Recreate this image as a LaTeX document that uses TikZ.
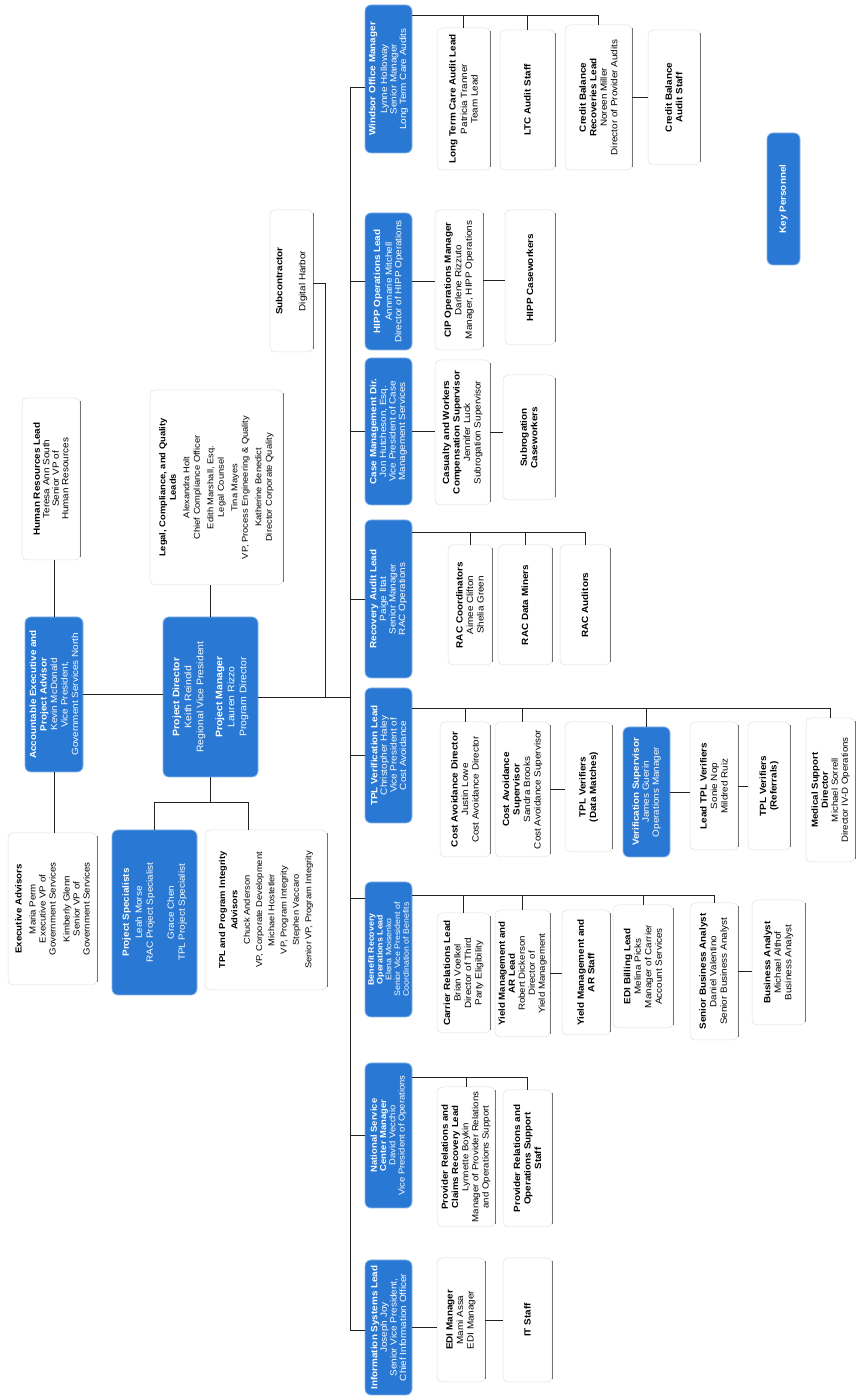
\documentclass[tikz,border=0pt]{standalone}
\usepackage{fontspec}
\setmainfont{Liberation Sans}[FakeStretch=1.1]
\usetikzlibrary{calc}
\definecolor{kblue}{RGB}{40,120,212}
\definecolor{kline}{RGB}{35,35,35}
\tikzset{
  kbox/.style={rectangle, rounded corners=6pt, fill=kblue, draw=kblue!55!white, line width=0.8pt, text=white, align=center, inner sep=1pt},
  card/.style={rectangle, rounded corners=5pt, fill=white, draw=black!12, line width=0.5pt, align=center, inner sep=1pt,
     font=\fontsize{9pt}{10.5pt}\selectfont,
     append after command={([xshift=3pt]\tikzlastnode.south west) edge[draw=black!55, line width=0.7pt] ([xshift=-3pt]\tikzlastnode.south east)}},
  conn/.style={draw=kline, line width=0.9pt},
  fs/.style 2 args={font=\fontsize{#1pt}{#2pt}\selectfont},
  sz/.style 2 args={minimum width=#1pt, minimum height=#2pt},
  dir/.style={kbox, minimum height=47pt, font=\fontsize{9pt}{9.6pt}\selectfont},
}
\begin{document}
\begin{tikzpicture}[x=1pt,y=1pt]
\useasboundingbox (0,0) rectangle (856,1399);
\fill[white] (0,0) rectangle (856,1399);
\begin{scope}[shift={(0,1399)}, rotate=90, transform shape]
% ---------- top level ----------
\node[kbox, sz={155}{58}, fs={9}{10.5}] (AE) at (-694.5,-54) {\textbf{Accountable Executive and}\\\textbf{Project Advisor}\\Kevin McDonald\\Vice President,\\Government Services North};
\node[card, sz={152}{89}, fs={8.8}{10}] (EA) at (-909,-52.5) {\textbf{Executive Advisors}\\[4pt]Maria Perm\\Executive VP of\\Government Services\\[4pt]Kimberly Glenn\\Senior VP of\\Government Services};
\node[card, sz={162}{58}, fs={9}{9.5}] (HR) at (-479,-51) {\textbf{Human Resources Lead}\\Teresa Ann South\\Senior VP of\\Human Resources};
\node[kbox, sz={160}{95}, fs={9.5}{12}] (PD) at (-697,-210.5) {\textbf{Project Director}\\Keith Reinold\\Regional Vice President\\[7pt]\textbf{Project Manager}\\Lauren Rizzo\\Program Director};
\node[card, sz={195}{133}, fs={8.5}{10.5}] (LEGAL) at (-487.5,-216.5) {\textbf{Legal, Compliance, and Quality}\\\textbf{Leads}\\[3pt]Alexandra Holt\\Chief Compliance Officer\\[3pt]Edith Marshall, Esq.\\Legal Counsel\\[3pt]Tina Mayes\\VP, Process Engineering \& Quality\\[3pt]Katherine Benedict\\Director Corporate Quality};
\node[kbox, sz={165}{85}, fs={9}{11}] (PS) at (-912.5,-154.5) {\textbf{Project Specialists}\\[2pt]Leah Morse\\RAC Project Specialist\\[10pt]Grace Chen\\TPL Project Specialist};
\node[card, sz={160}{122}, fs={8.5}{12.3}] (TADV) at (-910,-266) {\textbf{TPL and Program Integrity}\\\textbf{Advisors}\\Chuck Anderson\\VP, Corporate Development\\Michael Hostetler\\VP, Program Integrity\\Stephen Vaccaro\\Senior VP, Program Integrity};
\node[card, sz={142}{43}, fs={9}{10}] (SUB) at (-281,-291.5) {\textbf{Subcontractor}\\[13pt]Digital Harbor};
\node[kbox, sz={132}{33}, fs={9}{10}] (KEY) at (-199,-783.5) {\textbf{Key Personnel}};
% ---------- directors ----------
\node[dir, minimum width=148pt] (W) at (-79,-388.5) {\textbf{Windsor Office Manager}\\[2pt]Lynne Holloway\\Senior Manager\\Long Term Care Audits};
\node[dir, minimum width=137pt] (HIPP) at (-281.5,-388.5) {\textbf{HIPP Operations Lead}\\[2pt]Annmarie Mitchell\\Director of HIPP Operations};
\node[dir, minimum width=147pt] (CASE) at (-431.5,-388.5) {\textbf{Case Management Dir.}\\Jon Hutcheson, Esq.\\Vice President of Case\\Management Services};
\node[dir, minimum width=158pt] (RA) at (-599,-388.5) {\textbf{Recovery Audit Lead}\\Paige Iltat\\Senior Manager\\RAC Operations};
\node[dir, minimum width=135pt] (TPL) at (-755.5,-388.5) {\textbf{TPL Verification Lead}\\Christopher Haley\\Vice President of\\Cost Avoidance};
\node[dir, minimum width=135pt, fs={8}{8.8}] (BR) at (-949.5,-388.5) {\textbf{Benefit Recovery}\\\textbf{Operations Lead}\\Elena Moisenko\\Senior Vice President of\\Coordination of Benefits};
\node[dir, minimum width=145pt, fs={8.6}{9.3}] (NS) at (-1135.5,-388.5) {\textbf{National Service}\\\textbf{Center Manager}\\David Vecchio\\Vice President of Operations};
\node[dir, minimum width=135pt] (IS) at (-1327.5,-388.5) {\textbf{Information Systems Lead}\\Joseph Joy\\Senior Vice President,\\Chief Information Officer};
% ---------- Windsor children ----------
\node[card, sz={142}{53}] (LTCAL) at (-99,-463.5) {\textbf{Long Term Care Audit Lead}\\[1pt]Patricia Tranner\\Team Lead};
\node[card, sz={140}{55}] (LTCAS) at (-100,-527.5) {\textbf{LTC Audit Staff}};
\node[card, sz={145}{67}] (CBRL) at (-97.5,-598.5) {\textbf{Credit Balance}\\\textbf{Recoveries Lead}\\Noreen Miller\\Director of Provider Audits};
\node[card, sz={135}{52}] (CBAS) at (-97.5,-674) {\textbf{Credit Balance}\\\textbf{Audit Staff}};
% ---------- HIPP children ----------
\node[card, sz={140}{48}] (CIP) at (-280,-459) {\textbf{CIP Operations Manager}\\Darlene Rizzuto\\Manager, HIPP Operations};
\node[card, sz={135}{50}] (HIPPC) at (-277.5,-530) {\textbf{HIPP Caseworkers}};
% ---------- Case children ----------
\node[card, sz={145}{55}] (CWCS) at (-432.5,-462.5) {\textbf{Casualty and Workers}\\\textbf{Compensation Supervisor}\\Jennifer Luck\\Subrogation Supervisor};
\node[card, sz={125}{52}] (SC) at (-437.5,-529) {\textbf{Subrogation}\\\textbf{Caseworkers}};
% ---------- Recovery audit children ----------
\node[card, sz={120}{44}] (RACC) at (-605,-470) {\textbf{RAC Coordinators}\\Aimee Clifton\\Shelia Green};
\node[card, sz={120}{54}] (RACD) at (-605,-525) {\textbf{RAC Data Miners}};
\node[card, sz={120}{50}] (RACA) at (-605,-585) {\textbf{RAC Auditors}};
% ---------- TPL children ----------
\node[card, sz={135}{50}] (CAD) at (-789.5,-465) {\textbf{Cost Avoidance Director}\\Justin Lowe\\Cost Avoidance Director};
\node[card, sz={135}{55}] (CAS) at (-789.5,-522.5) {\textbf{Cost Avoidance}\\\textbf{Supervisor}\\Sandra Brooks\\Cost Avoidance Supervisor};
\node[card, sz={130}{47}] (TPLDM) at (-787,-588.5) {\textbf{TPL Verifiers}\\\textbf{(Data Matches)}};
\node[kbox, sz={130}{47}, fs={9}{10}] (VS) at (-792,-646.5) {\textbf{Verification Supervisor}\\James Guerin\\Operations Manager};
\node[card, sz={128}{48}] (LTV) at (-786,-714) {\textbf{Lead TPL Verifiers}\\Sonie Nop\\Mildred Ruiz};
\node[card, sz={128}{42}] (TPLR) at (-786,-769) {\textbf{TPL Verifiers}\\\textbf{(Referrals)}};
\node[card, sz={144}{49}, fs={8.8}{10}] (MSD) at (-790,-830.5) {\textbf{Medical Support}\\\textbf{Director}\\Michael Sorrell\\Director IV-D Operations};
% ---------- Benefit recovery children ----------
\node[card, sz={120}{53}] (CRL) at (-973,-463.5) {\textbf{Carrier Relations Lead}\\Brian Voelkel\\Director of Third\\Party Eligibility};
\node[card, sz={127}{55}, fs={8.8}{10}] (YAL) at (-973.5,-522.5) {\textbf{Yield Management and}\\\textbf{AR Lead}\\Robert Dickerson\\Director of\\Yield Management};
\node[card, sz={125}{48}] (YAS) at (-972.5,-586) {\textbf{Yield Management and}\\\textbf{AR Staff}};
\node[card, sz={123}{60}] (EDIB) at (-966.5,-643) {\textbf{EDI Billing Lead}\\Melina Picks\\Manager of Carrier\\Account Services};
\node[card, sz={137}{48}] (SBA) at (-971.5,-714) {\textbf{Senior Business Analyst}\\Daniel Valentino\\Senior Business Analyst};
\node[card, sz={125}{53}] (BA) at (-962.5,-778.5) {\textbf{Business Analyst}\\Michael Althof\\Business Analyst};
% ---------- National service children ----------
\node[card, sz={140}{58}, fs={8.8}{10.2}] (PRCR) at (-1157,-466) {\textbf{Provider Relations and}\\\textbf{Claims Recovery Lead}\\Lynnette Boykin\\Manager of Provider Relations\\and Operations Support};
\node[card, sz={137}{49}] (PROS) at (-1158.5,-527.5) {\textbf{Provider Relations and}\\\textbf{Operations Support}\\\textbf{Staff}};
% ---------- Information systems children ----------
\node[card, sz={124}{48}] (EDIM) at (-1320,-461) {\textbf{EDI Manager}\\Mami Assa\\EDI Manager};
\node[card, sz={124}{49}] (ITS) at (-1320,-527.5) {\textbf{IT Staff}};

% ---------- connectors ----------
\draw[conn] (AE.west) -- (AE.west -| EA.east);
\draw[conn] (AE.east) -- (AE.east -| HR.west);
\draw[conn] (AE.south) -- (AE.south |- PD.north);
\draw[conn] (PD.east) -- (PD.east -| LEGAL.west);
\coordinate (pdj) at (-802,-210.5);
\coordinate (tadvt) at (-802,-248);
\draw[conn] (PD.west) -- (pdj);
\draw[conn] (PS.east) -- (PS.east -| pdj) -- (tadvt) -- (tadvt -| TADV.east);
\coordinate (busY) at (0,-350);
\coordinate (busL) at (-1330,-350);
\coordinate (busR) at (-87,-350);
\draw[conn] (PD.south) -- (PD.south |- busY);
\draw[conn] (busL) -- (busR);
\coordinate (subk) at (-283,-325);
\draw[conn] (PD.south |- subk) -- (subk) -- (subk |- SUB.south);
\draw[conn] (busR) -- (busR |- W.north);
\draw[conn] (HIPP.north |- busY) -- (HIPP.north);
\draw[conn] (CASE.north |- busY) -- (CASE.north);
\draw[conn] (RA.north |- busY) -- (RA.north);
\draw[conn] (TPL.north |- busY) -- (TPL.north);
\coordinate (brt) at (-898,-350);
\draw[conn] (brt) -- (brt |- BR.north);
\draw[conn] (NS.north |- busY) -- (NS.north);
\draw[conn] (busL) -- (busL |- IS.north);
% Windsor
\coordinate (wside) at (-15,0);
\draw[conn] (W.south -| wside) -- (CBRL.east -| wside);
\draw[conn] (LTCAL.east -| wside) -- (LTCAL.east);
\draw[conn] (LTCAS.east -| wside) -- (LTCAS.east);
\draw[conn] (CBRL.east -| wside) -- (CBRL.east);
\draw[conn] (CBRL.south) -- (CBRL.south |- CBAS.north);
% HIPP
\draw[conn] (HIPP.south) -- (HIPP.south |- CIP.north);
\draw[conn] (CIP.south) -- (CIP.south |- HIPPC.north);
% Case
\draw[conn] (CASE.south) -- (CASE.south |- CWCS.north);
\draw[conn] (CWCS.south) -- (CWCS.south |- SC.north);
% Recovery audit
\coordinate (raside) at (-532,0);
\draw[conn] (RA.south -| raside) -- (RACA.east -| raside);
\draw[conn] (RACC.east -| raside) -- (RACC.east);
\draw[conn] (RACD.east -| raside) -- (RACD.east);
\draw[conn] (RACA.east -| raside) -- (RACA.east);
% TPL
\coordinate (tside) at (-708,0);
\draw[conn] (TPL.south -| tside) -- (MSD.east -| tside);
\draw[conn] (CAD.east -| tside) -- (CAD.east);
\draw[conn] (CAS.east -| tside) -- (CAS.east);
\draw[conn] (VS.east -| tside) -- (VS.east);
\draw[conn] (MSD.east -| tside) -- (MSD.east);
\draw[conn] (CAS.south) -- (CAS.south |- TPLDM.north);
\draw[conn] (VS.south) -- (VS.south |- LTV.north);
\draw[conn] (LTV.south) -- (LTV.south |- TPLR.north);
% Benefit recovery
\coordinate (bside) at (-895,0);
\draw[conn] (BR.south -| bside) -- (SBA.east -| bside);
\draw[conn] (CRL.east -| bside) -- (CRL.east);
\draw[conn] (YAL.east -| bside) -- (YAL.east);
\draw[conn] (EDIB.east -| bside) -- (EDIB.east);
\draw[conn] (SBA.east -| bside) -- (SBA.east);
\draw[conn] (YAL.south) -- (YAL.south |- YAS.north);
\draw[conn] (SBA.south) -- (SBA.south |- BA.north);
% National service
\coordinate (nside) at (-1077,0);
\draw[conn] (NS.south -| nside) -- (PROS.east -| nside);
\draw[conn] (PRCR.east -| nside) -- (PRCR.east);
\draw[conn] (PROS.east -| nside) -- (PROS.east);
% Information systems
\draw[conn] (IS.south) -- (IS.south |- EDIM.north);
\draw[conn] (EDIM.south) -- (EDIM.south |- ITS.north);
\end{scope}
\end{tikzpicture}
\end{document}
